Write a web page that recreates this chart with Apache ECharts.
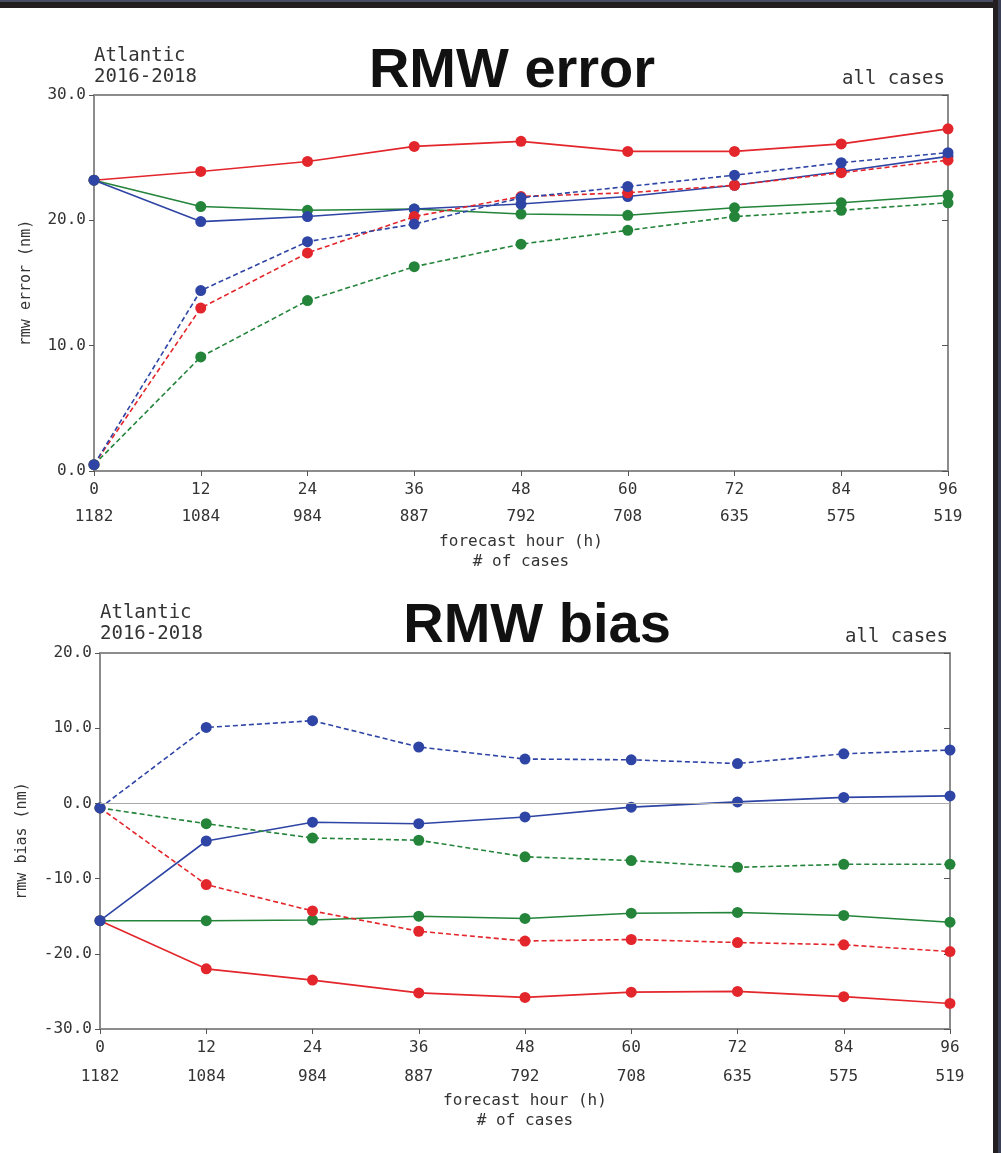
<!DOCTYPE html>
<html>
<head>
<meta charset="utf-8">
<script src="https://cdn.jsdelivr.net/npm/echarts@6/dist/echarts.min.js"></script>
<style>
  body { margin: 0; background: #fff; }
  #main { width: 1001px; height: 1153px; }
</style>
</head>
<body>
<div id="main"></div>
<script>
var hours = [0, 12, 24, 36, 48, 60, 72, 84, 96];
var cases = [1182, 1084, 984, 887, 792, 708, 635, 575, 519];

// RMW error (nm)
var errRedSolid = [23.2, 23.9, 24.7, 25.9, 26.3, 25.5, 25.5, 26.1, 27.3];
var errGreenSolid = [23.2, 21.1, 20.8, 20.9, 20.5, 20.4, 21.0, 21.4, 22.0];
var errBlueSolid = [23.2, 19.9, 20.3, 20.9, 21.3, 21.9, 22.8, 23.9, 25.1];
var errRedDash = [0.5, 13.0, 17.4, 20.3, 21.9, 22.2, 22.8, 23.8, 24.8];
var errGreenDash = [0.5, 9.1, 13.6, 16.3, 18.1, 19.2, 20.3, 20.8, 21.4];
var errBlueDash = [0.5, 14.4, 18.3, 19.7, 21.8, 22.7, 23.6, 24.6, 25.4];

// RMW bias (nm)
var biasRedSolid = [-15.6, -22.0, -23.5, -25.2, -25.8, -25.1, -25.0, -25.7, -26.6];
var biasGreenSolid = [-15.6, -15.6, -15.5, -15.0, -15.3, -14.6, -14.5, -14.9, -15.8];
var biasBlueSolid = [-15.6, -5.0, -2.5, -2.7, -1.8, -0.5, 0.2, 0.8, 1.0];
var biasRedDash = [-0.6, -10.8, -14.3, -17.0, -18.3, -18.1, -18.5, -18.8, -19.7];
var biasGreenDash = [-0.6, -2.7, -4.6, -4.9, -7.1, -7.6, -8.5, -8.1, -8.1];
var biasBlueDash = [-0.6, 10.1, 11.0, 7.5, 5.9, 5.8, 5.3, 6.6, 7.1];

var RED = "#e3262b", GREEN = "#23843a", BLUE = "#2f45a5";
var MONO = "DejaVu Sans Mono";
var frame = "#8c8c8c";
var txt = "#333";

function pairs(ys) {
  return hours.map(function (h, i) { return [h, ys[i]]; });
}

function line(ys, color, dashed, gi) {
  return {
    type: "line",
    xAxisIndex: gi * 3,
    yAxisIndex: gi * 2,
    data: pairs(ys),
    symbol: "circle",
    symbolSize: 11,
    animation: false,
    itemStyle: { color: color },
    lineStyle: { color: color, width: 1.6, type: dashed ? [5, 3] : "solid" },
    z: 3
  };
}

function hourAxis(gi, labelMargin) {
  return {
    type: "value", gridIndex: gi, min: 0, max: 96, interval: 12,
    position: "bottom",
    axisLine: { show: true, onZero: false, lineStyle: { color: frame, width: 2 } },
    axisTick: { show: true, length: 5, lineStyle: { color: "#555" } },
    splitLine: { show: false },
    axisLabel: { margin: labelMargin, fontFamily: MONO, fontSize: 16, color: txt }
  };
}

function casesAxis(gi, labelMargin, nameGap) {
  return {
    type: "value", gridIndex: gi, min: 0, max: 96, interval: 12,
    position: "bottom",
    axisLine: { show: false, onZero: false },
    axisTick: { show: false },
    splitLine: { show: false },
    axisLabel: {
      margin: labelMargin, fontFamily: MONO, fontSize: 16, color: txt,
      formatter: function (v) { return cases[hours.indexOf(v)]; }
    },
    name: "forecast hour (h)\n# of cases",
    nameLocation: "middle",
    nameGap: nameGap,
    nameTextStyle: { fontFamily: MONO, fontSize: 16, color: txt, lineHeight: 20 }
  };
}

function topAxis(gi) {
  return {
    type: "value", gridIndex: gi, min: 0, max: 96, position: "top",
    axisLine: { show: true, onZero: false, lineStyle: { color: frame, width: 2 } },
    axisTick: { show: false }, axisLabel: { show: false }, splitLine: { show: false }
  };
}

function leftAxis(gi, min, max, name, nameGap) {
  return {
    type: "value", gridIndex: gi, min: min, max: max, interval: 10,
    position: "left",
    axisLine: { show: true, onZero: false, lineStyle: { color: frame, width: 2 } },
    axisTick: { show: true, length: 5, lineStyle: { color: "#555" } },
    splitLine: { show: false },
    axisLabel: {
      margin: 8, fontFamily: MONO, fontSize: 16, color: txt,
      formatter: function (v) { return v.toFixed(1); }
    },
    name: name, nameLocation: "middle", nameGap: nameGap,
    nameTextStyle: { fontFamily: MONO, fontSize: 15, color: txt }
  };
}

function rightAxis(gi, min, max) {
  return {
    type: "value", gridIndex: gi, min: min, max: max, interval: 10,
    position: "right",
    axisLine: { show: true, onZero: false, lineStyle: { color: frame, width: 2 } },
    axisTick: { show: true, inside: true, length: 6, lineStyle: { color: "#555" } },
    axisLabel: { show: false }, splitLine: { show: false }
  };
}

var zeroSeries = line(biasBlueDash, BLUE, true, 1);
zeroSeries.markLine = {
  silent: true, symbol: "none", label: { show: false },
  lineStyle: { color: "#aaa", width: 1, type: "solid" },
  data: [{ yAxis: 0 }]
};

var option = {
  backgroundColor: "#fff",
  animation: false,
  grid: [
    { left: 94, right: 53, top: 95, height: 376 },
    { left: 100, right: 51, top: 653, height: 376 }
  ],
  xAxis: [
    hourAxis(0, 11), casesAxis(0, 38, 61), topAxis(0),
    hourAxis(1, 11), casesAxis(1, 40, 62), topAxis(1)
  ],
  yAxis: [
    leftAxis(0, 0, 30, "rmw error (nm)", 60), rightAxis(0, 0, 30),
    leftAxis(1, -30, 20, "rmw bias (nm)", 70), rightAxis(1, -30, 20)
  ],
  series: [
    line(errRedSolid, RED, false, 0),
    line(errGreenSolid, GREEN, false, 0),
    line(errBlueSolid, BLUE, false, 0),
    line(errRedDash, RED, true, 0),
    line(errGreenDash, GREEN, true, 0),
    line(errBlueDash, BLUE, true, 0),
    line(biasRedSolid, RED, false, 1),
    line(biasGreenSolid, GREEN, false, 1),
    line(biasBlueSolid, BLUE, false, 1),
    line(biasRedDash, RED, true, 1),
    line(biasGreenDash, GREEN, true, 1),
    zeroSeries
  ],
  graphic: [
    // dark frame at top and right of the picture
    { type: "rect", shape: { x: 0, y: 0, width: 1001, height: 8 }, style: { fill: "#231f20" }, silent: true },
    { type: "rect", shape: { x: 0, y: 0, width: 1001, height: 2 }, style: { fill: "#4a4e63" }, silent: true },
    { type: "rect", shape: { x: 993, y: 0, width: 8, height: 1153 }, style: { fill: "#231f20" }, silent: true },
    { type: "rect", shape: { x: 998, y: 0, width: 3, height: 1153 }, style: { fill: "#3b3f55" }, silent: true },

    { type: "text", left: 94, top: 46, style: { text: "Atlantic\n2016-2018", font: "19px " + MONO, fill: txt, lineHeight: 21 } },
    { type: "text", right: 56, top: 70, style: { text: "all cases", font: "19px " + MONO, fill: txt } },
    { type: "text", x: 512, y: 72, style: { text: "RMW error", font: "bold 56px 'Liberation Sans'", fill: "#111", align: "center", verticalAlign: "middle" } },

    { type: "text", left: 100, top: 603, style: { text: "Atlantic\n2016-2018", font: "19px " + MONO, fill: txt, lineHeight: 21 } },
    { type: "text", right: 53, top: 628, style: { text: "all cases", font: "19px " + MONO, fill: txt } },
    { type: "text", x: 537, y: 627, style: { text: "RMW bias", font: "bold 56px 'Liberation Sans'", fill: "#111", align: "center", verticalAlign: "middle" } }
  ]
};

var chart = echarts.init(document.getElementById("main"));
chart.setOption(option);
</script>
</body>
</html>
